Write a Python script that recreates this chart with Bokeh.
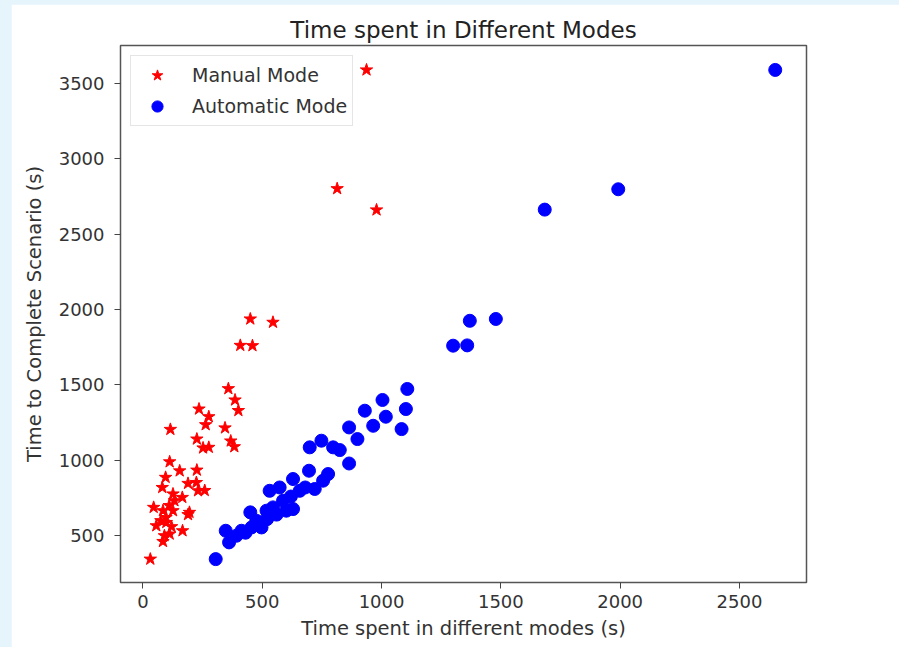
from bokeh.plotting import figure
from bokeh.models import Column, FixedTicker
from bokeh.embed import file_html
from bokeh.resources import INLINE

# ---- data ----
manual_x = [937, 814, 979, 450, 545, 408, 459, 358, 386, 400, 235, 276, 263, 344,
            115, 226, 368, 383, 252, 276, 112, 226, 154, 95, 189, 224, 259, 231,
            81, 126, 165, 132, 45, 84, 126, 195, 189, 97, 98, 56, 166, 112, 84,
            31, 110, 75, 120, 90]
manual_y = [3588, 2801, 2660, 1937, 1915, 1762, 1760, 1475, 1400, 1330, 1340, 1289,
            1236, 1215, 1205, 1141, 1128, 1090, 1082, 1086, 990, 935, 930, 887, 847,
            853, 800, 798, 820, 777, 754, 732, 688, 666, 666, 655, 640, 621, 588,
            566, 533, 511, 462, 345, 700, 600, 560, 500]

auto_x = [2650, 1992, 1684, 1479, 1370, 1359, 1300, 1108, 1004, 1102, 930, 1018,
          965, 864, 1084, 899, 748, 699, 825, 797, 864, 696, 776, 755, 629, 720,
          657, 573, 531, 587, 601, 629, 545, 518, 450, 455, 490, 497, 392, 413,
          347, 361, 305, 560, 475, 620, 680, 430, 520]
auto_y = [3588, 2797, 2662, 1937, 1925, 1762, 1760, 1473, 1400, 1340, 1329, 1289,
          1229, 1218, 1207, 1141, 1130, 1086, 1068, 1086, 979, 931, 909, 865, 876,
          810, 798, 820, 798, 732, 666, 677, 688, 666, 655, 555, 588, 555, 500,
          533, 533, 456, 345, 640, 600, 760, 820, 520, 610]

x_ticks = [0, 500, 1000, 1500, 2000, 2500]
y_ticks = [500, 1000, 1500, 2000, 2500, 3000, 3500]

FONT = "DejaVu Sans"

p = figure(width=888, height=643, output_backend="svg", toolbar_location=None,
           x_range=(-94, 2781), y_range=(190, 3750),
           min_border_left=109, min_border_right=93, min_border_top=41,
           min_border_bottom=65, margin=(4, 0, 0, 11),
           title="Time spent in Different Modes",
           background_fill_color="white", border_fill_color="white")

p.title.align = "center"
p.title.text_font = FONT
p.title.text_font_size = "23px"
p.title.text_font_style = "normal"
p.title.text_color = "#222222"
p.title.standoff = 6

p.outline_line_color = "#555555"
p.outline_line_width = 1.5
p.xgrid.visible = False
p.ygrid.visible = False

for ax in (p.xaxis[0], p.yaxis[0]):
    ax.axis_line_color = None
    ax.major_tick_line_color = "#444444"
    ax.major_tick_in = 0
    ax.major_tick_out = 6
    ax.minor_tick_line_color = None
    ax.major_label_text_font = FONT
    ax.major_label_text_font_size = "18px"
    ax.major_label_text_color = "#333333"
    ax.axis_label_text_font = FONT
    ax.axis_label_text_font_size = "19.5px"
    ax.axis_label_text_font_style = "normal"
    ax.axis_label_text_color = "#333333"

p.xaxis.ticker = FixedTicker(ticks=x_ticks)
p.yaxis.ticker = FixedTicker(ticks=y_ticks)
p.xaxis.axis_label = "Time spent in different modes (s)"
p.yaxis.axis_label = "Time to Complete Scenario (s)"
p.xaxis.major_label_standoff = 6
p.xaxis.axis_label_standoff = 6
p.yaxis.major_label_standoff = 10
p.yaxis.axis_label_standoff = 10

p.scatter(manual_x, manual_y, marker="star", size=13, color="red",
          line_color="red", legend_label="Manual Mode")
p.scatter(auto_x, auto_y, marker="circle", size=13, color="blue",
          line_color="blue", legend_label="Automatic Mode")

lg = p.legend[0]
lg.location = "top_left"
lg.margin = 10
lg.padding = 5
lg.spacing = 3
lg.label_height = 28
lg.glyph_height = 28
lg.glyph_width = 42
lg.label_standoff = 14
lg.label_text_font = FONT
lg.label_text_font_size = "19px"
lg.label_text_color = "#333333"
lg.border_line_color = "#cccccc"
lg.border_line_width = 1
lg.background_fill_alpha = 0.85

layout = Column(children=[p], styles={"background-color": "#e6f5fc"})

open("out.html", "w").write(file_html(layout, INLINE))
